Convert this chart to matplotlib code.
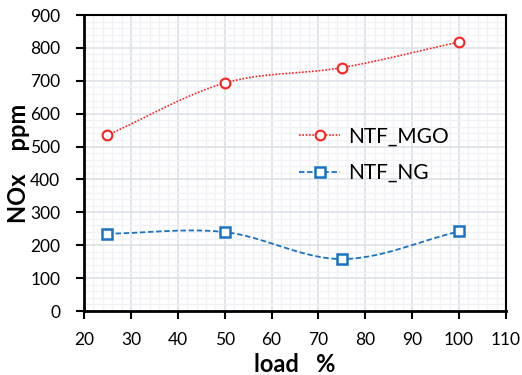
import numpy as np
import matplotlib
matplotlib.use("Agg")
import matplotlib.pyplot as plt
from matplotlib.ticker import MultipleLocator

load = [25, 50, 75, 100]
ntf_mgo = [535, 693, 740, 818]
ntf_ng = [235, 240, 158, 242]
series_names = ["NTF_MGO", "NTF_NG"]

plt.rcParams['font.family'] = ['Lato', 'DejaVu Sans']


def smooth(x, y, n=40):
    # Catmull-Rom style smoothing (like Excel "smoothed line")
    x = np.asarray(x, float)
    y = np.asarray(y, float)
    px = np.concatenate([[2 * x[0] - x[1]], x, [2 * x[-1] - x[-2]]])
    py = np.concatenate([[2 * y[0] - y[1]], y, [2 * y[-1] - y[-2]]])
    xs, ys = [], []
    for i in range(1, len(px) - 2):
        t = np.linspace(0, 1, n)
        p0x, p1x, p2x, p3x = px[i - 1:i + 3]
        p0y, p1y, p2y, p3y = py[i - 1:i + 3]
        t2, t3 = t * t, t * t * t
        bx = 0.5 * (2 * p1x + (-p0x + p2x) * t + (2 * p0x - 5 * p1x + 4 * p2x - p3x) * t2 + (-p0x + 3 * p1x - 3 * p2x + p3x) * t3)
        by = 0.5 * (2 * p1y + (-p0y + p2y) * t + (2 * p0y - 5 * p1y + 4 * p2y - p3y) * t2 + (-p0y + 3 * p1y - 3 * p2y + p3y) * t3)
        xs.append(bx)
        ys.append(by)
    return np.concatenate(xs), np.concatenate(ys)


fig = plt.figure(figsize=(5.22, 3.75), dpi=100)
ax = fig.add_axes([84 / 522, 1 - 311 / 375, (506 - 84) / 522, (311 - 15) / 375])

red = "#ff2020"
blue = "#1a72c4"

sx, sy = smooth(load, ntf_mgo)
ax.plot(sx, sy, color=red, linestyle=(0, (1, 1)), linewidth=1.2)
ax.plot(load, ntf_mgo, linestyle="none", marker="o", markersize=7, markerfacecolor="white",
        markeredgecolor=red, markeredgewidth=1.5)
sx, sy = smooth(load, ntf_ng)
ax.plot(sx, sy, color=blue, linestyle=(0, (3, 1.5)), linewidth=1.3)
ax.plot(load, ntf_ng, linestyle="none", marker="s", markersize=7, markerfacecolor="white",
        markeredgecolor=blue, markeredgewidth=1.8)

# legend handles
h1, = ax.plot([], [], color=red, linestyle=(0, (1, 1)), linewidth=1.2, marker="o", markersize=7,
              markerfacecolor="white", markeredgecolor=red, markeredgewidth=1.5)
h2, = ax.plot([], [], color=blue, linestyle=(0, (3, 1.5)), linewidth=1.3, marker="s", markersize=7,
              markerfacecolor="white", markeredgecolor=blue, markeredgewidth=1.8)
leg = ax.legend([h1, h2], series_names, loc="upper left", bbox_to_anchor=(280 / 522, 1 - 108 / 375),
                bbox_transform=fig.transFigure, frameon=False, fontsize=15, handlelength=2.0,
                handletextpad=0.35, labelspacing=0.78)

ax.set_xlim(20, 110)
ax.set_ylim(0, 900)
ax.xaxis.set_major_locator(MultipleLocator(10))
ax.yaxis.set_major_locator(MultipleLocator(100))
ax.xaxis.set_minor_locator(MultipleLocator(2))
ax.yaxis.set_minor_locator(MultipleLocator(20))
ax.grid(which="major", color="#dde1e8", linewidth=1.2)
ax.grid(which="minor", color="#f1f2f5", linewidth=1.0)
ax.set_axisbelow(True)
ax.tick_params(which="major", direction="out", length=6, width=1.5, labelsize=12.5, colors="black")
ax.tick_params(axis="y", pad=11)
ax.tick_params(axis="x", pad=9)
ax.tick_params(which="minor", length=0)
for s in ax.spines.values():
    s.set_color("black")
    s.set_linewidth(1.5)
ax.spines["left"].set_linewidth(2)
ax.spines["bottom"].set_linewidth(2)

ax.set_xlabel("load   %", fontsize=17, fontweight="bold", labelpad=4)
ax.set_ylabel("NOx    ppm", fontsize=17, fontweight="bold", labelpad=0)

fig.savefig("out.png", dpi=100)
